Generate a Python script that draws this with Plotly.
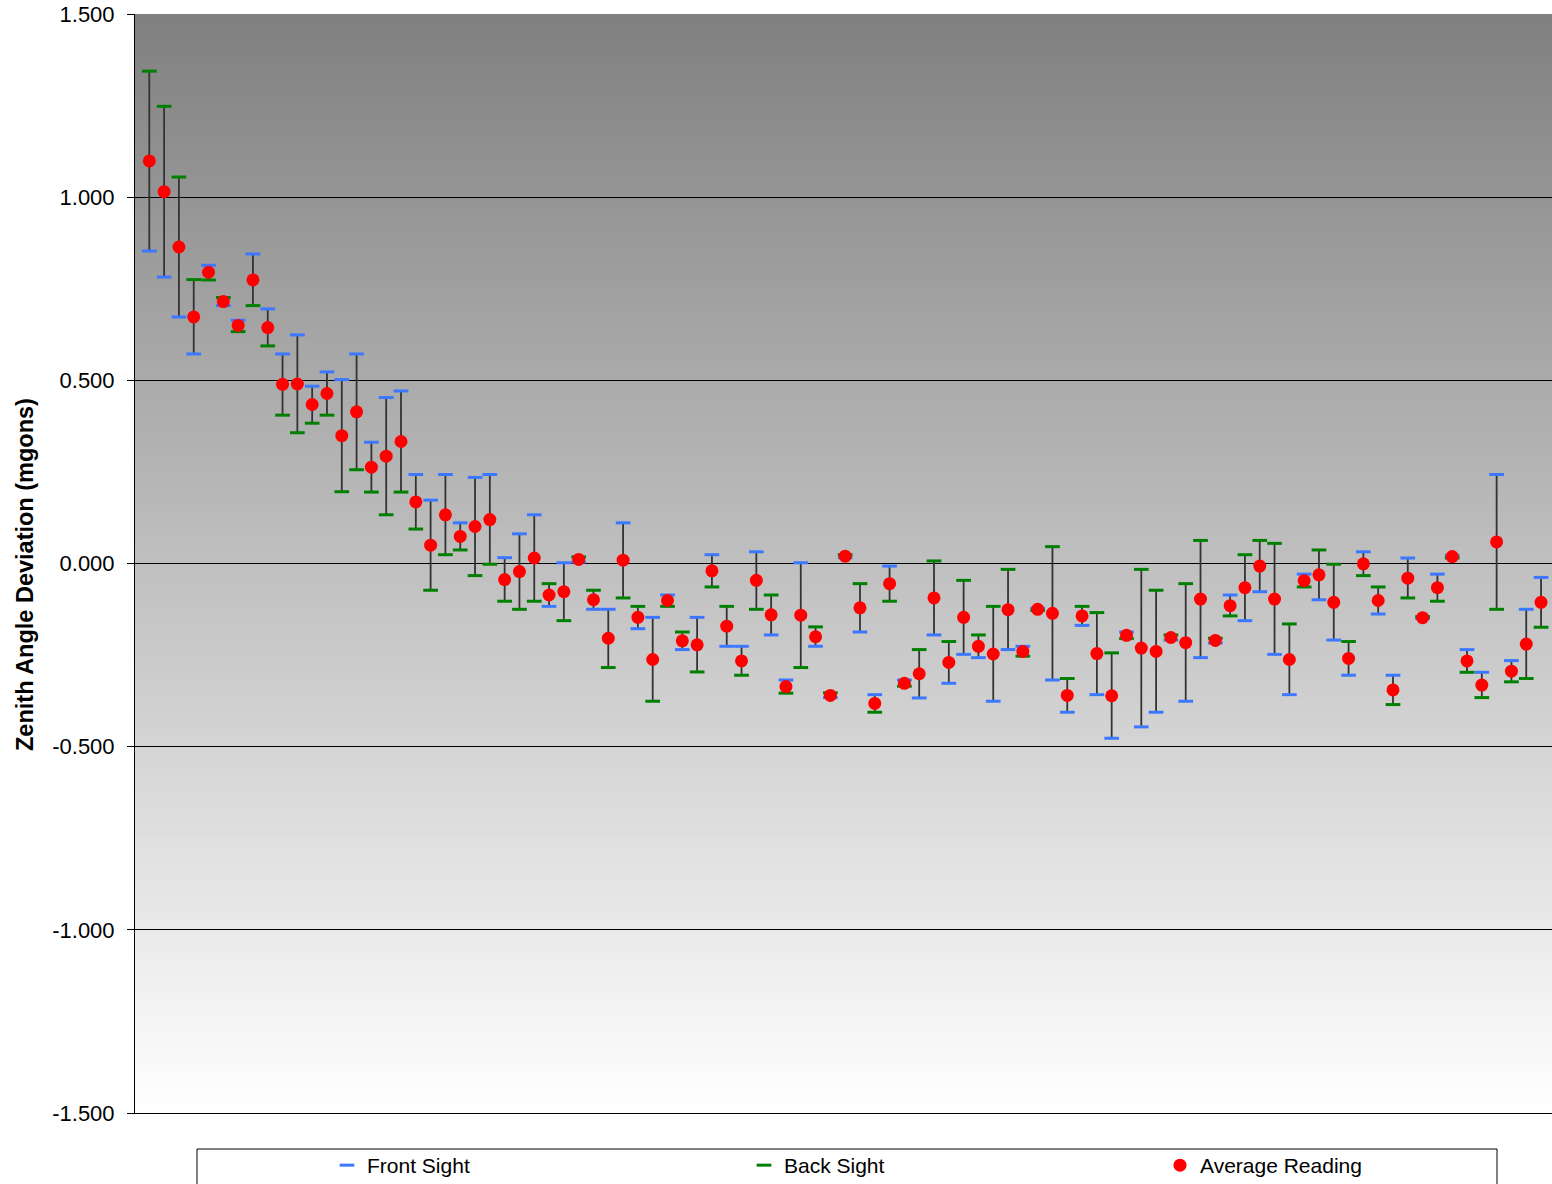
import plotly.graph_objects as go

# ---- data (mgons) ----
front = [0.853, 0.782, 0.673, 0.572, 0.814, 0.704, 0.664, 0.845, 0.695, 0.572,
         0.624, 0.484, 0.523, 0.502, 0.572, 0.331, 0.453, 0.471, 0.243, 0.173,
         0.243, 0.111, 0.235, 0.243, 0.016, 0.081, 0.133, -0.117, 0.002, 0.004,
         -0.125, -0.125, 0.111, -0.178, -0.147, -0.086, -0.235, -0.147, 0.024, -0.226,
         -0.226, 0.032, -0.195, -0.318, 0.002, -0.226, -0.366, 0.016, -0.187, -0.358,
         -0.007, -0.318, -0.367, -0.195, -0.327, -0.248, -0.257, -0.376, -0.235, -0.226,
         -0.122, -0.318, -0.406, -0.169, -0.358, -0.477, -0.187, -0.446, -0.406, -0.209,
         -0.376, -0.257, -0.217, -0.086, -0.156, -0.077, -0.248, -0.358, -0.029, -0.099,
         -0.209, -0.305, 0.032, -0.138, -0.305, 0.015, -0.150, -0.029, 0.022, -0.235,
         -0.297, 0.243, -0.265, -0.125, -0.038]

back = [1.344, 1.248, 1.055, 0.775, 0.774, 0.726, 0.633, 0.704, 0.594, 0.405,
        0.357, 0.383, 0.405, 0.196, 0.256, 0.195, 0.133, 0.195, 0.094, -0.073,
        0.024, 0.037, -0.033, -0.002, -0.103, -0.125, -0.103, -0.055, -0.156, 0.018,
        -0.073, -0.284, -0.094, -0.117, -0.376, -0.117, -0.187, -0.296, -0.064, -0.117,
        -0.305, -0.125, -0.086, -0.354, -0.284, -0.173, -0.353, 0.024, -0.055, -0.406,
        -0.103, -0.335, -0.235, 0.007, -0.213, -0.046, -0.195, -0.117, -0.016, -0.253,
        -0.128, 0.046, -0.314, -0.117, -0.134, -0.244, -0.205, -0.016, -0.073, -0.195,
        -0.055, 0.063, -0.204, -0.143, 0.024, 0.063, 0.055, -0.165, -0.064, 0.037,
        -0.002, -0.213, -0.033, -0.064, -0.385, -0.094, -0.145, -0.103, 0.015, -0.297,
        -0.366, -0.125, -0.323, -0.314, -0.174]

average = [1.099, 1.015, 0.864, 0.673, 0.795, 0.715, 0.650, 0.774, 0.644, 0.489,
           0.490, 0.434, 0.464, 0.349, 0.414, 0.263, 0.293, 0.333, 0.168, 0.050,
           0.133, 0.074, 0.101, 0.120, -0.044, -0.022, 0.015, -0.086, -0.077, 0.011,
           -0.099, -0.204, 0.009, -0.147, -0.262, -0.101, -0.211, -0.222, -0.020, -0.171,
           -0.266, -0.046, -0.140, -0.336, -0.141, -0.200, -0.360, 0.020, -0.121, -0.382,
           -0.055, -0.327, -0.301, -0.094, -0.270, -0.147, -0.226, -0.247, -0.126, -0.240,
           -0.125, -0.136, -0.360, -0.143, -0.246, -0.361, -0.196, -0.231, -0.240, -0.202,
           -0.216, -0.097, -0.210, -0.115, -0.066, -0.007, -0.097, -0.262, -0.047, -0.031,
           -0.106, -0.259, -0.001, -0.101, -0.345, -0.040, -0.148, -0.066, 0.019, -0.266,
           -0.332, 0.059, -0.294, -0.220, -0.106]

reading_no = list(range(1, len(front) + 1))

y_ticks = [1.5, 1.0, 0.5, 0.0, -0.5, -1.0, -1.5]
y_tick_labels = ["1.500", "1.000", "0.500", "0.000", "-0.500", "-1.000", "-1.500"]

# ---- layout geometry ----
W, H = 1552, 1184
ML, MR, MT, MB = 135, 0, 14, 71
PW = W - ML - MR
PH = H - MT - MB
FONT = "Liberation Sans, Arial, sans-serif"
BLUE = "#3c78ff"
GREEN = "#008000"
RED = "#ff0000"

# connectors between front and back sight
cx, cy = [], []
for i, f, b in zip(reading_no, front, back):
    cx += [i, i, None]
    cy += [f, b, None]

fig = go.Figure()
fig.add_trace(go.Scatter(x=cx, y=cy, mode="lines",
                         line=dict(color="#333333", width=1.8),
                         showlegend=False, hoverinfo="skip"))
fig.add_trace(go.Scatter(x=reading_no, y=front, mode="markers", name="Front Sight",
                         legend="legend",
                         marker=dict(symbol="line-ew", size=10.5, color=BLUE,
                                     line=dict(color=BLUE, width=3))))
fig.add_trace(go.Scatter(x=reading_no, y=back, mode="markers", name="Back Sight",
                         legend="legend2",
                         marker=dict(symbol="line-ew", size=10.5, color=GREEN,
                                     line=dict(color=GREEN, width=3))))
fig.add_trace(go.Scatter(x=reading_no, y=average, mode="markers", name="Average Reading",
                         legend="legend3",
                         marker=dict(symbol="circle", size=13, color=RED,
                                     line=dict(width=0))))

# gradient background of the plot area (overlapping strips avoid seams)
shapes = []
N = 240
for k in range(N):
    t = (k + 0.5) / N
    g = round(255 - t * 127)
    shapes.append(dict(type="rect", xref="paper", yref="paper",
                       x0=0, x1=1, y0=k / N, y1=min(1.0, (k + 2) / N),
                       fillcolor=f"rgb({g},{g},{g})", line=dict(width=0),
                       layer="below"))
# legend frame
shapes.append(dict(type="rect", xref="paper", yref="paper",
                   x0=(197 - ML) / PW, x1=(1497 - ML) / PW,
                   y0=(MT + PH - 1149) / PH, y1=(MT + PH - 1210) / PH,
                   fillcolor="white", line=dict(color="black", width=1),
                   layer="below"))


def legend_at(sym_x):
    return dict(orientation="h", xref="container", yref="container",
                x=(sym_x - 20) / W, xanchor="left",
                y=(H - 1145) / H, yanchor="top",
                bgcolor="rgba(0,0,0,0)", borderwidth=0,
                font=dict(family=FONT, size=21, color="black"))


fig.update_layout(
    width=W, height=H,
    margin=dict(l=ML, r=MR, t=MT, b=MB),
    paper_bgcolor="white", plot_bgcolor="white",
    font=dict(family=FONT, color="black"),
    shapes=shapes,
    showlegend=True,
    legend=legend_at(347),
    legend2=legend_at(764),
    legend3=legend_at(1180),
    annotations=[dict(text="<b>Zenith Angle Deviation (mgons)</b>",
                      xref="paper", yref="paper",
                      x=(25 - ML) / PW, y=(MT + PH - 575) / PH,
                      xanchor="center", yanchor="middle", textangle=-90,
                      showarrow=False,
                      font=dict(family=FONT, size=23.5, color="black"))],
)

fig.update_xaxes(range=[0.034, 95.74], showline=True, linecolor="black", linewidth=1,
                 showgrid=False, zeroline=False, showticklabels=False, ticks="")
fig.update_yaxes(range=[-1.5, 1.5], tickvals=y_ticks, ticktext=y_tick_labels,
                 showline=True, linecolor="black", linewidth=1,
                 ticks="outside", ticklen=7, tickcolor="black", tickwidth=1,
                 showgrid=True, gridcolor="black", gridwidth=1, zeroline=False,
                 ticklabelstandoff=8,
                 tickfont=dict(family=FONT, size=22, color="black"))

fig.write_html("out.html", config={"displayModeBar": False},
               post_script="document.body.style.margin='0px';document.body.style.overflow='hidden';")
